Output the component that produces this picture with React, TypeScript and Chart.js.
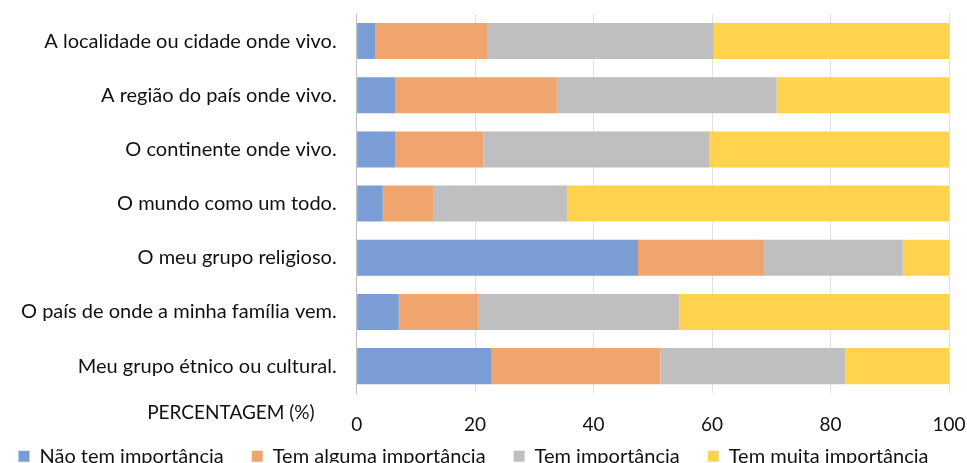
import React, { useEffect, useRef } from "react";
import { Chart, registerables } from "chart.js";

Chart.register(...registerables);

const categories = [
  "A localidade ou cidade onde vivo.",
  "A região do país onde vivo.",
  "O continente onde vivo.",
  "O mundo como um todo.",
  "O meu grupo religioso.",
  "O país de onde a minha família vem.",
  "Meu grupo étnico ou cultural.",
];

const naoTem = [3.2, 6.5, 6.5, 4.4, 47.5, 7.1, 22.8];
const alguma = [18.8, 27.3, 14.9, 8.5, 21.3, 13.5, 28.5];
const tem = [38.3, 37.1, 38.2, 22.7, 23.4, 33.9, 31.2];
const muita = [39.7, 29.1, 40.4, 64.4, 7.8, 45.5, 17.5];

const seriesNames = [
  "Não tem importância",
  "Tem alguma importância",
  "Tem importância",
  "Tem muita importância",
];
const seriesColors = ["#7A9DD5", "#F1A56E", "#BFBFBF", "#FFD34E"];

const xTicks = [0, 20, 40, 60, 80, 100];
const axisTitle = "PERCENTAGEM (%)";

const FONT = "Lato, 'Liberation Sans', sans-serif";
const LEGEND_PAD = 28;
const LEGEND_FONT = 20;

const titlePlugin = {
  id: "leftAxisTitle",
  afterLayout(chart: any) {
    const lg = chart.legend;
    if (lg) {
      const h = lg.height;
      lg.top = chart.chartArea.bottom + 63 - LEGEND_PAD - LEGEND_FONT / 2;
      lg.bottom = lg.top + h;
      lg.left = lg.left - 20;
    }
  },
  afterDraw(chart: any) {
    const { ctx, chartArea } = chart;
    ctx.save();
    ctx.font = `19px ${FONT}`;
    ctx.fillStyle = "#111111";
    ctx.textAlign = "right";
    ctx.textBaseline = "middle";
    ctx.fillText(axisTitle, chartArea.left - 42, chartArea.bottom + 20);
    ctx.restore();
  },
};

export default function App() {
  const ref = useRef<HTMLCanvasElement | null>(null);

  useEffect(() => {
    if (!ref.current) return;
    const values = [naoTem, alguma, tem, muita];
    const chart = new Chart(ref.current, {
      type: "bar",
      data: {
        labels: categories,
        datasets: values.map((d, i) => ({
          label: seriesNames[i],
          data: d,
          backgroundColor: seriesColors[i],
          borderWidth: 0,
          barPercentage: 0.665,
          categoryPercentage: 1,
        })),
      },
      options: {
        indexAxis: "y",
        animation: false,
        responsive: true,
        maintainAspectRatio: false,
        layout: { padding: { top: 14, right: 0, left: 0, bottom: 0 } },
        plugins: {
          tooltip: { enabled: false },
          legend: {
            position: "bottom",
            align: "center",
            labels: {
              boxWidth: 11,
              boxHeight: 11,
              padding: LEGEND_PAD,
              color: "#111111",
              font: { family: FONT, size: LEGEND_FONT },
            },
          },
        },
        scales: {
          x: {
            stacked: true,
            min: 0,
            max: 100,
            z: 1,
            afterBuildTicks: (axis: any) => {
              axis.ticks = xTicks.map((v) => ({ value: v }));
            },
            afterFit: (axis: any) => {
              axis.paddingLeft = 0;
              axis.paddingRight = 18;
            },
            grid: {
              color: "rgba(120,120,120,0.22)",
              drawTicks: false,
            },
            border: { display: false },
            ticks: {
              padding: 20,
              color: "#111111",
              font: { family: FONT, size: 19 },
            },
          },
          y: {
            stacked: true,
            afterFit: (axis: any) => {
              axis.paddingTop = 0;
              axis.paddingBottom = 0;
              axis.width += 1;
            },
            grid: { display: false, drawTicks: false },
            border: { display: true, color: "#bfbfbf", width: 1 },
            ticks: {
              padding: 20,
              color: "#111111",
              font: { family: FONT, size: 20 },
            },
          },
        },
      },
      plugins: [titlePlugin],
    });
    return () => chart.destroy();
  }, []);

  return (
    <div
      style={{
        position: "fixed",
        left: 0,
        top: 0,
        width: 967,
        height: 463,
        overflow: "hidden",
        background: "#fff",
      }}
    >
      <div style={{ position: "relative", width: 967, height: 514 }}>
        <canvas ref={ref} />
      </div>
    </div>
  );
}
